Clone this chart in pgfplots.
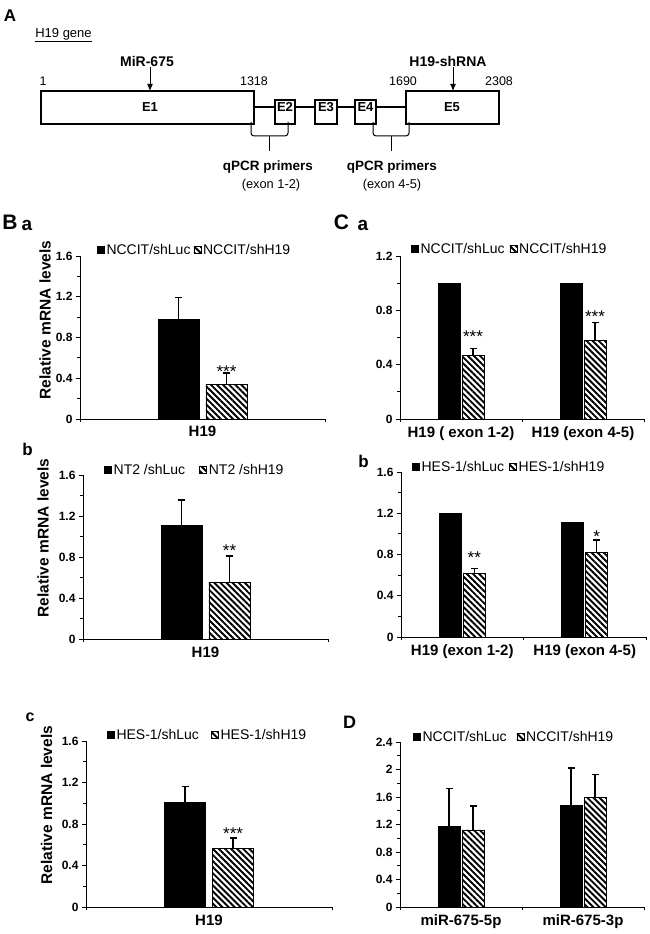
\documentclass[border=0pt]{standalone}
\usepackage{fontspec}
\setmainfont{Liberation Sans}
\usepackage{pgfplots}
\pgfplotsset{compat=1.18}
\usetikzlibrary{patterns.meta,arrows.meta}

\newcommand\tk{\fontsize{12}{12}\selectfont\bfseries}
\newcommand\lgf{\fontsize{14}{14}\selectfont}
\newcommand\ct{\fontsize{15}{15}\selectfont\bfseries}
\newcommand\yl{\fontsize{15.5}{15.5}\selectfont\bfseries}
\newcommand\st{\fontsize{17}{17}\selectfont}

\pgfplotsset{
  /pgfplots/ybar legend/.style={/pgfplots/legend image code/.code={\draw[##1,/tikz/.cd,line width=0.6pt] (0pt,-3.5pt) rectangle (7pt,3.5pt);}},
  panel/.style={
    scale only axis, clip=false,
    axis x line*=bottom, axis y line*=left,
    axis line style={line width=0.9pt},
    ymin=0, enlarge x limits=false,
    tick align=outside,
    major tick length=4pt, minor tick length=3pt,
    every tick/.style={black, line width=0.8pt},
    minor y tick num=1,
    yticklabel style={font=\tk},
    xticklabel style={font=\ct},
    major x tick style={draw=none},
    ybar,
    legend style={draw=none, fill=none, font=\lgf, legend columns=2, anchor=west,
      inner sep=0pt, outer sep=0pt,
      /tikz/every even column/.append style={column sep=1pt}},
    legend cell align=left,
  },
  hatch/.style={draw=black, line width=0.8pt, pattern={Lines[angle=-45,distance=4.3pt,line width=1.9pt]}},
  solidbar/.style={draw=black, fill=black, line width=0.8pt},
  eb/.style={error bars/.cd, y dir=plus, y explicit,
    error mark options={rotate=90, mark size=3.5pt, line width=1.3pt, black},
    error bar style={line width=1.3pt, black}},
  ylab/.style={ylabel={Relative mRNA levels},
    every axis y label/.style={at={(axis description cs:#1)}, rotate=90, anchor=center, font=\yl}},
}

\begin{document}
\begin{tikzpicture}[x=1pt,y=1pt]
\useasboundingbox (0,0) rectangle (649,934);
\coordinate (pA) at (0,734);
\coordinate (pBa) at (80,515);
\coordinate (pBb) at (83,295);
\coordinate (pBc) at (86,27);
\coordinate (pCa) at (400,515);
\coordinate (pCb) at (401,297);
\coordinate (pD) at (400,27);

% ---------------- Panel A: gene diagram ----------------
\begin{axis}[at={(pA)}, anchor=south west, scale only axis, width=649pt, height=200pt,
  xmin=0, xmax=649, ymin=-200, ymax=0, hide axis, clip=false]
\addplot[draw=none] coordinates {(0,-100)};
\node[font=\fontsize{17}{17}\selectfont\bfseries] at (axis cs:10,-16) {A};
\node[font=\fontsize{13}{13}\selectfont] at (axis cs:63.5,-34) {H19 gene};
\draw[line width=1.4pt] (axis cs:35,-41.5) -- (axis cs:92,-41.5);
\draw[line width=2pt] (axis cs:254,-107) -- (axis cs:406,-107);
\draw[line width=1.2pt, fill=white] (axis cs:41,-91) rectangle (axis cs:254,-124);
\draw[line width=1.2pt, fill=white] (axis cs:275,-100) rectangle (axis cs:295,-124);
\draw[line width=1.2pt, fill=white] (axis cs:315,-100) rectangle (axis cs:337,-124);
\draw[line width=1.2pt, fill=white] (axis cs:355,-100) rectangle (axis cs:376,-124);
\draw[line width=1.2pt, fill=white] (axis cs:406,-91) rectangle (axis cs:499,-124);
\begin{scope}[font=\fontsize{13}{13}\selectfont\bfseries]
\node at (axis cs:150,-107) {E1};
\node at (axis cs:285,-107) {E2};
\node at (axis cs:326,-107) {E3};
\node at (axis cs:365.5,-107) {E4};
\node at (axis cs:452,-107) {E5};
\end{scope}
\begin{scope}[font=\fontsize{12.5}{12.5}\selectfont]
\node at (axis cs:43,-81) {1};
\node at (axis cs:254,-81) {1318};
\node at (axis cs:403,-81) {1690};
\node at (axis cs:499,-81) {2308};
\end{scope}
\node[font=\fontsize{14}{14}\selectfont\bfseries] at (axis cs:147,-62) {MiR-675};
\node[font=\fontsize{14}{14}\selectfont\bfseries] at (axis cs:448,-62) {H19-shRNA};
\draw[-{Latex[length=7pt,width=6pt]}, line width=1pt] (axis cs:150,-67) -- (axis cs:150,-91);
\draw[-{Latex[length=7pt,width=6pt]}, line width=1pt] (axis cs:453,-67) -- (axis cs:453,-91);
\draw[line width=1pt, rounded corners=3pt] (axis cs:251,-122) -- (axis cs:251,-136) -- (axis cs:288,-136) -- (axis cs:288,-122);
\draw[line width=1pt] (axis cs:269.5,-136) -- (axis cs:269.5,-151);
\draw[line width=1pt, rounded corners=3pt] (axis cs:373,-122) -- (axis cs:373,-136) -- (axis cs:409,-136) -- (axis cs:409,-122);
\draw[line width=1pt] (axis cs:391,-136) -- (axis cs:391,-151);
\node[font=\fontsize{13.5}{13.5}\selectfont\bfseries] at (axis cs:268,-167) {qPCR primers};
\node[font=\fontsize{12.8}{12.8}\selectfont] at (axis cs:271,-185) {(exon 1-2)};
\node[font=\fontsize{13.5}{13.5}\selectfont\bfseries] at (axis cs:392,-167) {qPCR primers};
\node[font=\fontsize{12.8}{12.8}\selectfont] at (axis cs:392,-185) {(exon 4-5)};
\end{axis}

% ---------------- panel letters ----------------
\node[font=\fontsize{21}{21}\selectfont\bfseries] at (10,711.5) {B};
\node[font=\fontsize{19}{19}\selectfont\bfseries] at (27,709) {a};
\node[font=\fontsize{21}{21}\selectfont\bfseries] at (341.5,711.5) {C};
\node[font=\fontsize{19}{19}\selectfont\bfseries] at (363,709) {a};
\node[font=\fontsize{17}{17}\selectfont\bfseries] at (27.5,485) {b};
\node[font=\fontsize{17}{17}\selectfont\bfseries] at (363.5,473) {b};
\node[font=\fontsize{16}{16}\selectfont\bfseries] at (30,216.5) {c};
\node[font=\fontsize{18}{18}\selectfont\bfseries] at (349.5,211.5) {D};

% ---------------- B a ----------------
\begin{axis}[panel, at={(pBa)}, anchor=south west, width=245pt, height=163pt,
  ylab={-0.143,0.607},
  xmin=-0.5, xmax=0.5, xtick={0}, xticklabels={H19}, minor xtick={-0.5,0.5},
  ymax=1.6, ytick={0,0.4,0.8,1.2,1.6}, yticklabels={0,0.4,0.8,1.2,1.6},
  bar width=41pt, ybar=7pt,
  legend style={at={(axis description cs:0.069,1.037)}}]
\addplot[solidbar, eb] coordinates {(0,0.98) +- (0,0.21)};
\addplot[hatch, eb] coordinates {(0,0.34) +- (0,0.11)};
\legend{NCCIT/shLuc,NCCIT/shH19}
\node[font=\st, anchor=base] at (axis cs:0.098,0.41) {***};
\end{axis}

% ---------------- B b ----------------
\begin{axis}[panel, at={(pBb)}, anchor=south west, width=245pt, height=164pt,
  ylab={-0.163,0.616},
  xmin=-0.5, xmax=0.5, xtick={0}, xticklabels={H19}, minor xtick={-0.5,0.5},
  ymax=1.6, ytick={0,0.4,0.8,1.2,1.6}, yticklabels={0,0.4,0.8,1.2,1.6},
  bar width=41pt, ybar=7pt,
  legend style={at={(axis description cs:0.086,1.030)}, /tikz/every even column/.append style={column sep=12pt}}]
\addplot[solidbar, eb] coordinates {(0,1.11) +- (0,0.245)};
\addplot[hatch, eb] coordinates {(0,0.556) +- (0,0.254)};
\legend{NT2 /shLuc,NT2 /shH19}
\node[font=\st, anchor=base] at (axis cs:0.098,0.80) {**};
\end{axis}

% ---------------- B c ----------------
\begin{axis}[panel, at={(pBc)}, anchor=south west, width=246pt, height=166pt,
  ylab={-0.16,0.614},
  xmin=-0.5, xmax=0.5, xtick={0}, xticklabels={H19}, minor xtick={-0.5,0.5},
  ymax=1.6, ytick={0,0.4,0.8,1.2,1.6}, yticklabels={0,0.4,0.8,1.2,1.6},
  bar width=41pt, ybar=7pt,
  legend style={at={(axis description cs:0.085,1.036)}, /tikz/every even column/.append style={column sep=10pt}}]
\addplot[solidbar, eb] coordinates {(0,1.01) +- (0,0.15)};
\addplot[hatch, eb] coordinates {(0,0.56) +- (0,0.105)};
\legend{HES-1/shLuc,HES-1/shH19}
\node[font=\st, anchor=base] at (axis cs:0.098,0.655) {***};
\end{axis}

% ---------------- C a ----------------
\begin{axis}[panel, at={(pCa)}, anchor=south west, width=244pt, height=163pt,
  xmin=-0.5, xmax=1.5, xtick={0,1}, xticklabels={H19 ( exon 1-2),H19 (exon 4-5)}, minor xtick={-0.5,0.5,1.5},
  ymax=1.2, ytick={0,0.4,0.8,1.2}, yticklabels={0,0.4,0.8,1.2},
  bar width=22pt, ybar=2pt,
  legend style={at={(axis description cs:0.045,1.043)}, /tikz/every even column/.append style={column sep=3pt}}]
\addplot[solidbar] coordinates {(0,1.0) (1,1.0)};
\addplot[hatch, eb] coordinates {(0,0.47) +- (0,0.05) (1,0.58) +- (0,0.13)};
\legend{NCCIT/shLuc,NCCIT/shH19}
\node[font=\st, anchor=base] at (axis cs:0.098,0.56) {***};
\node[font=\st, anchor=base] at (axis cs:1.098,0.71) {***};
\end{axis}

% ---------------- C b ----------------
\begin{axis}[panel, at={(pCb)}, anchor=south west, width=245pt, height=165pt,
  xmin=-0.5, xmax=1.5, xtick={0,1}, xticklabels={H19 (exon 1-2),H19 (exon 4-5)}, minor xtick={-0.5,0.5,1.5},
  ymax=1.6, ytick={0,0.4,0.8,1.2,1.6}, yticklabels={0,0.4,0.8,1.2,1.6},
  bar width=22pt, ybar=2pt,
  legend style={at={(axis description cs:0.045,1.03)}, /tikz/every even column/.append style={column sep=3pt}}]
\addplot[solidbar] coordinates {(0,1.2) (1,1.115)};
\addplot[hatch, eb] coordinates {(0,0.62) +- (0,0.045) (1,0.82) +- (0,0.12)};
\legend{HES-1/shLuc,HES-1/shH19}
\node[font=\st, anchor=base] at (axis cs:0.098,0.71) {**};
\node[font=\st, anchor=base] at (axis cs:1.098,0.92) {*};
\end{axis}

% ---------------- D ----------------
\begin{axis}[panel, at={(pD)}, anchor=south west, width=244pt, height=165pt,
  xmin=-0.5, xmax=1.5, xtick={0,1}, xticklabels={miR-675-5p,miR-675-3p}, minor xtick={-0.5,0.5,1.5},
  ymax=2.4, ytick={0,0.4,0.8,1.2,1.6,2.0,2.4}, yticklabels={0,0.4,0.8,1.2,1.6,2,2.4},
  bar width=22pt, ybar=2pt,
  legend style={at={(axis description cs:0.053,1.03)}, /tikz/every even column/.append style={column sep=8pt}}]
\addplot[solidbar, eb] coordinates {(0,1.17) +- (0,0.55) (1,1.48) +- (0,0.54)};
\addplot[hatch, eb] coordinates {(0,1.12) +- (0,0.35) (1,1.59) +- (0,0.34)};
\legend{NCCIT/shLuc,NCCIT/shH19}
\end{axis}
\end{tikzpicture}
\end{document}
